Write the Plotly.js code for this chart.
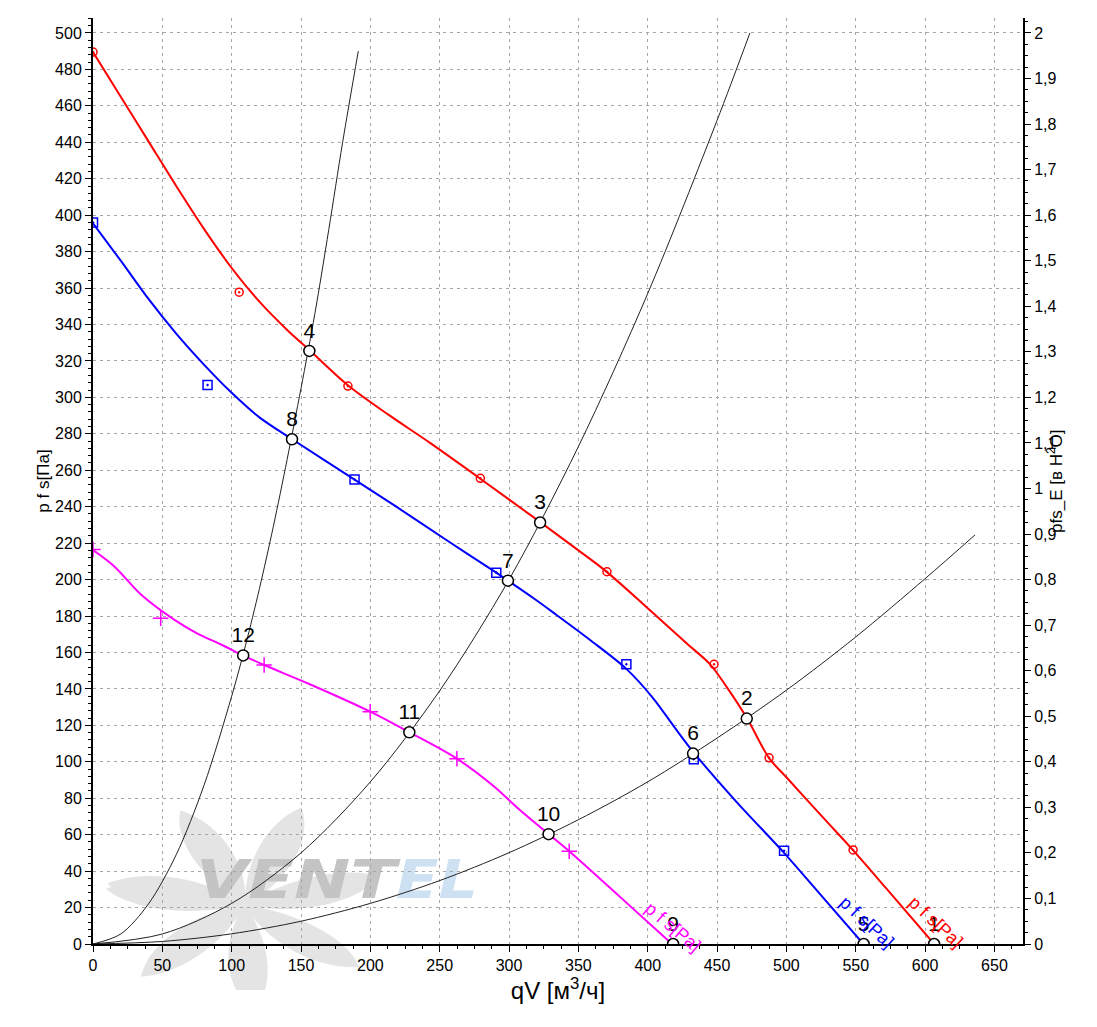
<!DOCTYPE html>
<html>
<head>
<meta charset="utf-8">
<script src="https://cdn.plot.ly/plotly-3.0.1.min.js"></script>
<style>
  body { margin: 0; background: #fff; }
  #chart { width: 1097px; height: 1027px; }
</style>
</head>
<body>
<div id="chart"></div>
<script>
//fan curves, qV in m3/h, p in Pa
var redX = [0, 20, 40, 60, 80, 100, 120, 140, 156, 184, 213, 243, 279, 322.5, 351, 370, 399, 428, 445, 457, 471.5, 487.5, 500, 527.5, 548, 572, 606.5];
var redY = [489.5, 465, 440.5, 416, 392.5, 371, 352.5, 337, 326, 306.5, 290.5, 275, 255.5, 231.5, 215.5, 204.5, 185, 165, 153.5, 141, 124, 102, 91.5, 68.5, 51.5, 30.5, 0];

var blueX = [0, 20, 40, 60, 80, 100, 120, 143.6, 188.6, 218.7, 254.8, 290.8, 299.2, 317.2, 331.7, 358.2, 384.6, 403.8, 418.3, 432.7, 464, 498.3, 524.1, 555.5];
var blueY = [395.5, 375, 354, 335, 318, 302.5, 289, 277, 254.9, 240, 221.7, 203.8, 199.4, 190, 182, 167, 151, 135, 120, 105.5, 78, 50, 27.5, 0];

var magX = [0, 15, 35, 58.5, 75, 92, 108.5, 123.4, 154.7, 199.9, 228.1, 262.4, 289.4, 307.8, 328.5, 343.4, 379.8, 417.5];
var magY = [216.2, 207.5, 191.5, 178, 170.5, 164.5, 158.3, 153.1, 143.1, 127.5, 116.2, 101.7, 86.3, 73.5, 60.3, 50.9, 26, 0];

//measured points (markers)
var redPtX = [0, 105.4, 183.8, 279.3, 370.6, 447.8, 487.5, 548.1];
var redPtY = [489.5, 357.7, 306.2, 255.6, 204.3, 153.5, 102.2, 51.6];
var bluePtX = [0, 82.6, 188.6, 290.8, 384.6, 433.2, 498.3];
var bluePtY = [396, 306.8, 254.9, 203.8, 153.5, 101.4, 51.2];
var magPtX = [0, 48.8, 123.4, 199.9, 262.4, 343.4];
var magPtY = [216.5, 178.8, 153.1, 127.5, 101.7, 50.9];

//system curves
var sysAX = [0, 20, 40, 60, 80, 100, 110, 120, 130, 140, 150, 160, 170, 180, 191.3];
var sysAY = [0, 5.5, 22, 49, 87, 136, 164, 195, 229, 266, 305, 346, 392, 440, 490];
var sysBX = [0, 50, 100, 150, 200, 250, 300, 350, 400, 450, 473.7];
var sysBY = [0, 5.5, 22.3, 50, 89, 139, 200, 273, 357, 452, 500];
var sysCX = [0, 50, 100, 150, 200, 250, 300, 350, 400, 450, 500, 550, 600, 636];
var sysCY = [0, 1.4, 5.6, 12.5, 22.3, 34.8, 50.1, 68.2, 89, 113, 139.3, 168.5, 200.5, 224.5];

//operating points 1..12
var opLabels = ["1", "2", "3", "4", "5", "6", "7", "8", "9", "10", "11", "12"];
var opX = [606.5, 471.4, 322.4, 156, 555.7, 432.7, 299.2, 143.5, 418.3, 328.5, 228.1, 108.3];
var opY = [0, 123.7, 231.3, 325.5, 0, 104.5, 199.4, 277, 0, 60.3, 116.2, 158.4];

var curveLabel = "p f s[Pa]";
var font = "Liberation Sans, Arial, sans-serif";

function lineTrace(x, y, color, width) {
    return {x: x, y: y, mode: "lines", type: "scatter", hoverinfo: "skip",
            line: {color: color, width: width, shape: "spline", smoothing: 0.9}};
}

function markTrace(x, y, color, symbol, size) {
    return {x: x, y: y, mode: "markers", type: "scatter", hoverinfo: "skip",
            marker: {color: color, symbol: symbol, size: size, line: {color: color, width: 1.5}}};
}

var data = [
    lineTrace(sysAX, sysAY, "#222", 1),
    lineTrace(sysBX, sysBY, "#222", 1),
    lineTrace(sysCX, sysCY, "#222", 1),
    lineTrace(redX, redY, "#ff0000", 2),
    lineTrace(blueX, blueY, "#0000ff", 2),
    lineTrace(magX, magY, "#ff00ff", 2),
    markTrace(redPtX, redPtY, "#ff0000", "circle-open-dot", 8),
    markTrace(bluePtX, bluePtY, "#0000ff", "square-open-dot", 9),
    markTrace(magPtX, magPtY, "#ff00ff", "cross-thin-open", 11),
    {
        x: opX, y: opY, text: opLabels, mode: "markers+text", type: "scatter",
        textposition: "top center", hoverinfo: "skip",
        textfont: {family: font, size: 21, color: "#000"},
        marker: {symbol: "circle", size: 11, color: "#fff", line: {color: "#000", width: 1.5}}
    },
    //keeps the right axis alive
    {x: [0], y: [0], yaxis: "y2", mode: "markers", marker: {opacity: 0}, hoverinfo: "skip"}
];

//watermark logo as an svg image
var logo = '<svg xmlns="http://www.w3.org/2000/svg" width="400" height="200" viewBox="90 790 400 200">' +
    '<g fill="#e4e4e4" transform="translate(245 905) scale(0.95 0.72)">';
for (var a = 0; a < 360; a += 51) {
    logo += '<path transform="rotate(' + a + ')" d="M0,0 C-30,-30 -95,-55 -145,-30 C-120,0 -60,14 0,0 Z"/>';
}
logo += '</g>' +
    '<text x="196" y="898" font-family="DejaVu Sans" font-weight="bold" font-style="italic" font-size="54" fill="#c4c4c4" textLength="200" lengthAdjust="spacingAndGlyphs">VENT</text>' +
    '<text x="396" y="898" font-family="DejaVu Sans" font-weight="bold" font-style="italic" font-size="54" fill="#cde1f2" textLength="82" lengthAdjust="spacingAndGlyphs">EL</text>' +
    '</svg>';

var tickFont = {family: font, size: 16, color: "#000"};
var gridColor = "#a6a6a6";

var layout = {
    width: 1097,
    height: 1027,
    margin: {l: 93, r: 74, t: 18, b: 83},
    paper_bgcolor: "#fff",
    plot_bgcolor: "rgba(0,0,0,0)",
    showlegend: false,
    separators: ", ",
    font: {family: font, color: "#000"},
    xaxis: {
        range: [0, 670.6], tick0: 0, dtick: 50, zeroline: false,
        showgrid: true, gridcolor: gridColor, griddash: "3px,4px", gridwidth: 1,
        showline: true, linecolor: "#000", linewidth: 2,
        ticks: "outside", ticklen: 6, tickcolor: "#000", tickfont: tickFont,
        minor: {dtick: 12.5, ticks: "outside", ticklen: 3, tickcolor: "#000", showgrid: false},
        title: {text: "qV [м<sup>3</sup>/ч]", standoff: 8,
                font: {family: "Liberation Sans Narrow, Arial Narrow, sans-serif", size: 24, color: "#000"}}
    },
    yaxis: {
        range: [0, 508.2], tick0: 0, dtick: 20, zeroline: false,
        showgrid: true, gridcolor: gridColor, griddash: "3px,4px", gridwidth: 1,
        showline: true, linecolor: "#000", linewidth: 2,
        ticks: "outside", ticklen: 6, tickcolor: "#000", tickfont: tickFont,
        minor: {dtick: 4, ticks: "outside", ticklen: 3, tickcolor: "#000", showgrid: false},
        title: {text: "p f s[Па]", standoff: 1, font: {family: font, size: 17, color: "#000"}}
    },
    yaxis2: {
        overlaying: "y", side: "right",
        range: [0, 2.0328], tick0: 0, dtick: 0.1, zeroline: false, showgrid: false,
        showline: true, linecolor: "#000", linewidth: 2,
        ticks: "outside", ticklen: 6, tickcolor: "#000", tickfont: tickFont,
        minor: {dtick: 0.025, ticks: "outside", ticklen: 3, tickcolor: "#000", showgrid: false}
    },
    annotations: [
        {x: 607.7, y: 12.2, text: curveLabel, showarrow: false, textangle: 43,
         font: {family: font, size: 18, color: "#ff0000"}},
        {x: 557.8, y: 12.2, text: curveLabel, showarrow: false, textangle: 43,
         font: {family: font, size: 18, color: "#0000ff"}},
        {x: 418.1, y: 9.3, text: curveLabel, showarrow: false, textangle: 40,
         font: {family: font, size: 18, color: "#ff00ff"}},
        //right axis title, sits close to the tick labels like the original
        {xref: "paper", yref: "paper", x: 1.0344, y: 0.5, xanchor: "center", yanchor: "middle",
         text: "pfs_E [в H<sup>2</sup>O]", showarrow: false, textangle: -90,
         font: {family: font, size: 17, color: "#000"}}
    ],
    images: [{
        source: "data:image/svg+xml;charset=utf-8," + encodeURIComponent(logo),
        xref: "paper", yref: "paper",
        x: -0.0032, y: 0.1663, sizex: 0.4301, sizey: 0.216,
        xanchor: "left", yanchor: "top", sizing: "stretch", layer: "below"
    }]
};

Plotly.newPlot("chart", data, layout, {staticPlot: true});
</script>
</body>
</html>
